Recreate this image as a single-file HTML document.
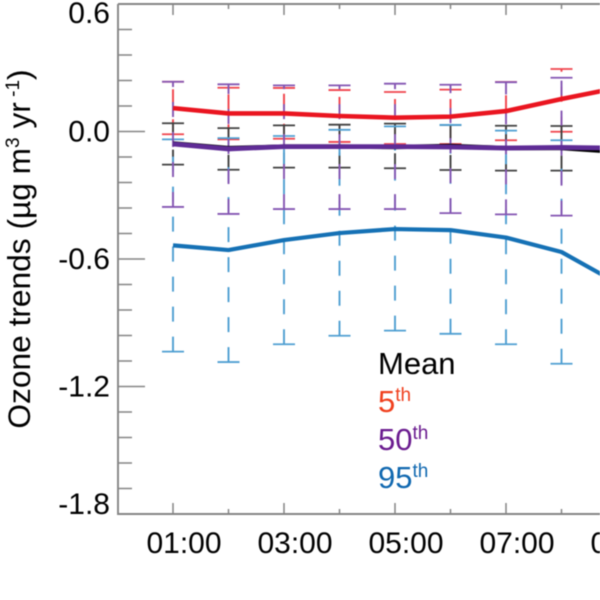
<!DOCTYPE html>
<html lang="en">
<head>
<meta charset="utf-8">
<title>Ozone trends</title>
<style>
html,body{margin:0;padding:0;background:#fff;width:600px;height:600px;overflow:hidden}
svg{display:block;font-family:"Liberation Sans",Arial,sans-serif;filter:blur(.5px)}
</style>
</head>
<body>
<svg id="chart" width="600" height="600" viewBox="0 0 600 600" xmlns="http://www.w3.org/2000/svg">
<rect width="600" height="600" fill="#fff"/>
<g id="bars"></g>
<g id="lines"></g>
<g id="axes"></g>
<text transform="translate(30,249) rotate(-90)" text-anchor="middle" font-size="31.7" fill="#000">Ozone trends (µg m<tspan dy="-11" font-size="19">3</tspan><tspan dy="11"> yr</tspan><tspan dy="-11" font-size="19"> -1</tspan><tspan dy="11">)</tspan></text>
<g font-size="31">
<text x="378" y="374" fill="#000">Mean</text>
<text x="378" y="412" fill="#f0401e">5<tspan dy="-11" font-size="19">th</tspan></text>
<text x="378" y="450" fill="#6a1b8f">50<tspan dy="-11" font-size="19">th</tspan></text>
<text x="378" y="488" fill="#1068b0">95<tspan dy="-11" font-size="19">th</tspan></text>
</g>
</svg>
<script>
const hours = ['01:00','02:00','03:00','04:00','05:00','06:00','07:00','08:00','09:00'];
const xTickLabels = ['01:00','03:00','05:00','07:00','09:00'];
const yTickLabels = ['0.6','0.0','-0.6','-1.2','-1.8'];
const yTickValues = [0.6,0,-0.6,-1.2,-1.8];

const meanRed = [0.11,0.085,0.085,0.073,0.065,0.07,0.096,0.153,0.205];
const meanBlack = [-0.056,-0.078,-0.071,-0.071,-0.073,-0.068,-0.078,-0.078,-0.096];
const meanPurple = [-0.059,-0.082,-0.071,-0.071,-0.071,-0.073,-0.078,-0.075,-0.078];
const meanBlue = [-0.536,-0.558,-0.511,-0.478,-0.459,-0.464,-0.499,-0.567,-0.713];

const redTop = [0.234,0.206,0.205,0.195,0.186,0.197,0.233,0.294,0.3];
const redBottom = [-0.013,-0.037,-0.034,-0.049,-0.059,-0.059,-0.041,-0.001,0.02];
const blackTop = [0.039,0.016,0.029,0.032,0.037,0.031,0.027,0.026,0.02];
const blackBottom = [-0.156,-0.18,-0.17,-0.17,-0.173,-0.181,-0.184,-0.184,-0.2];
const purpleTop = [0.234,0.222,0.217,0.217,0.225,0.22,0.232,0.253,0.27];
const purpleBottom = [-0.355,-0.388,-0.365,-0.365,-0.365,-0.384,-0.39,-0.396,-0.41];
const blueTop = [-0.037,-0.031,-0.021,0.008,0.024,0.031,0.004,-0.041,-0.1];
const blueBottom = [-1.036,-1.085,-1.001,-0.961,-0.937,-0.952,-1.001,-1.093,-1.2];

const NS = 'http://www.w3.org/2000/svg';
const xAt = i => 173 + i * 55.5;
const yAt = v => 131.5 - v * 212.5;
const AXIS_COLOR = '#858585';
const LEFT = 118, TOP = yAt(0.6), BOTTOM = yAt(-1.8);

function make(tag, parent, props) {
  const el = document.createElementNS(NS, tag);
  for (const k in props) el.setAttribute(k, props[k]);
  parent.appendChild(el);
  return el;
}

const axes = document.getElementById('axes');
const bars = document.getElementById('bars');
const lines = document.getElementById('lines');

const errorSeries = [
  ['red', redTop, redBottom, '#f0434c'],
  ['black', blackTop, blackBottom, '#404040'],
  ['blue', blueTop, blueBottom, '#4f9fd2'],
  ['purple', purpleTop, purpleBottom, '#8455b2']
];
errorSeries.forEach(s => {
  hours.forEach((h, i) => {
    const x = xAt(i), yT = yAt(s[1][i]), yB = yAt(s[2][i]);
    const stem = make('line', bars, {x1:x, x2:x, y1:yB, y2:yT, stroke:s[3], 'stroke-width':1.9, 'stroke-dasharray':'15 15'});
    
    
    const capT = make('line', bars, {x1:x-11, x2:x+11, y1:yT, y2:yT, stroke:s[3], 'stroke-width':1.8});
    
    
    const capB = make('line', bars, {x1:x-11, x2:x+11, y1:yB, y2:yB, stroke:s[3], 'stroke-width':1.8});
    
    
  });
});

const lineSeries = [
  ['red', meanRed, '#ea1520', 4.6],
  ['blue', meanBlue, '#1571b5', 4.2],
  ['black', meanBlack, '#000000', 4.4],
  ['purple', meanPurple, '#5f2c96', 4.8]
];
lineSeries.forEach(s => {
  const pts = s[1].map((v, i) => xAt(i) + ',' + yAt(v)).join(' ');
  const pl = make('polyline', lines, {points:pts, fill:'none', stroke:s[2], 'stroke-width':s[3], 'stroke-linejoin':'round'});
  
  
});

// axis frame
const frame = make('path', axes, {d:`M${LEFT} ${TOP}H600M${LEFT} ${TOP}V${BOTTOM}H600`, fill:'none', stroke:AXIS_COLOR, 'stroke-width':1.9});



// y ticks: 5 minor divisions per major
for (let k = 0; k <= 20; k++) {
  const v = 0.6 - k * 0.12;
  const major = k % 5 === 0;
  if (k === 0 || k === 20) continue;
  const t = make('line', axes, {x1:LEFT, x2:LEFT + (major ? 27 : 14), y1:yAt(v), y2:yAt(v), stroke:AXIS_COLOR, 'stroke-width':1.5});
  
  
}

// x ticks at top and bottom
hours.forEach((h, i) => {
  const len = i % 2 === 0 ? 11 : 5;
  const a = make('line', axes, {x1:xAt(i), x2:xAt(i), y1:TOP, y2:TOP + len, stroke:AXIS_COLOR, 'stroke-width':1.5});
  
  
  const b = make('line', axes, {x1:xAt(i), x2:xAt(i), y1:BOTTOM, y2:BOTTOM - len, stroke:AXIS_COLOR, 'stroke-width':1.5});
  
  
});

// tick labels
yTickLabels.forEach((lab, i) => {
  const base = Math.min(BOTTOM, Math.max(23, yAt(yTickValues[i]) + 10));
  const t = make('text', axes, {x:110, y:base, 'text-anchor':'end', 'font-size':30, fill:'#000'});
  
  
  t.textContent = lab;
});
xTickLabels.forEach(lab => {
  const t = make('text', axes, {x:xAt(hours.indexOf(lab)) + 11, y:553, 'text-anchor':'middle', 'font-size':30, fill:'#000'});
  
  
  t.textContent = lab;
});
</script>
</body>
</html>
